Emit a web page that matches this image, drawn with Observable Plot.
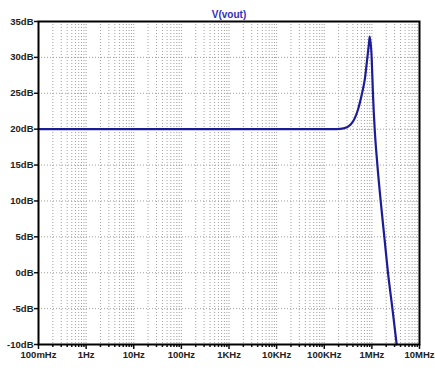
<!DOCTYPE html>
<html>
<head>
<meta charset="utf-8">
<script src="https://cdn.jsdelivr.net/npm/d3@7"></script>
<script src="https://cdn.jsdelivr.net/npm/@observablehq/plot@0.6"></script>
<style>
  html, body { margin: 0; padding: 0; background: #fff; }
  svg { display: block; }
</style>
</head>
<body>
<div id="chart"></div>
<script>
// Data (frequency in Hz, magnitude in dB)
const freqHz = [0.1, 1e4, 1.82e5, 2.56e5, 3.55e5, 4.36e5, 5.04e5, 6.17e5, 7.13e5, 8.05e5, 8.71e5, 9.0e5,
                9.91e5, 1.054e6, 1.146e6, 1.306e6, 1.531e6, 1.858e6, 2.178e6, 2.698e6, 3.319e6];
const magDb  = [20, 20, 20.0, 20.1, 20.6, 21.5, 22.6, 24.9, 27.0, 30.0, 32.0, 32.9,
                29.9, 24.9, 20.0, 15.0, 10.0, 4.5, 0.0, -5.0, -10.0];
const seriesName = "V(vout)";

const xDecades = [0.1, 1, 10, 100, 1e3, 1e4, 1e5, 1e6, 1e7];
const xTickLabels = ["100mHz", "1Hz", "10Hz", "100Hz", "1KHz", "10KHz", "100KHz", "1MHz", "10MHz"];
const yTicks = [-10, -5, 0, 5, 10, 15, 20, 25, 30, 35];
const yTickLabels = ["-10dB", "-5dB", "0dB", "5dB", "10dB", "15dB", "20dB", "25dB", "30dB", "35dB"];

const data = freqHz.map((f, i) => ({f, db: magDb[i]}));
const minor = xDecades.slice(0, -1).flatMap(d => [2,3,4,5,6,7,8,9].map(k => d * k));
const xLabel = new Map(xDecades.map((d, i) => [d, xTickLabels[i]]));
const yLabel = new Map(yTicks.map((d, i) => [d, yTickLabels[i]]));

const gridStyle = {stroke: "#a0a0a0", strokeOpacity: 1, strokeWidth: 1, strokeDasharray: "1,2"};

const chart = Plot.plot({
  width: 435,
  height: 368,
  marginLeft: 38,
  marginRight: 16,
  marginTop: 21,
  marginBottom: 24,
  style: {fontFamily: "'Liberation Sans', Arial, sans-serif", fontSize: "9.5px", fontWeight: "bold", color: "#222", background: "#fff"},
  x: {type: "log", domain: [0.1, 1e7], label: null},
  y: {domain: [-10, 35], label: null},
  marks: [
    Plot.gridX(minor, {...gridStyle}),
    Plot.gridX(xDecades, {...gridStyle}),
    Plot.gridY(yTicks, {...gridStyle}),
    Plot.axisX(minor, {tickSize: 3, text: null, strokeWidth: 1.5, stroke: "#111", label: null}),
    Plot.axisX(xDecades, {tickSize: 5, tickPadding: 2, tickFormat: d => xLabel.get(d), strokeWidth: 1.5, stroke: "#111", label: null}),
    Plot.axisY(yTicks, {tickSize: 4, tickPadding: 1, tickFormat: d => yLabel.get(d), strokeWidth: 1.5, stroke: "#111", label: null}),
    Plot.line(data, {x: "f", y: "db", stroke: "#1c1c96", strokeWidth: 2.2, curve: "monotone-x"}),
    Plot.frame({stroke: "#000", strokeWidth: 2}),
    Plot.text([seriesName], {frameAnchor: "top", lineAnchor: "bottom", dy: -4, fill: "#3030c0", fontSize: 10, fontWeight: "bold"})
  ]
});
document.getElementById("chart").appendChild(chart);
</script>
</body>
</html>
